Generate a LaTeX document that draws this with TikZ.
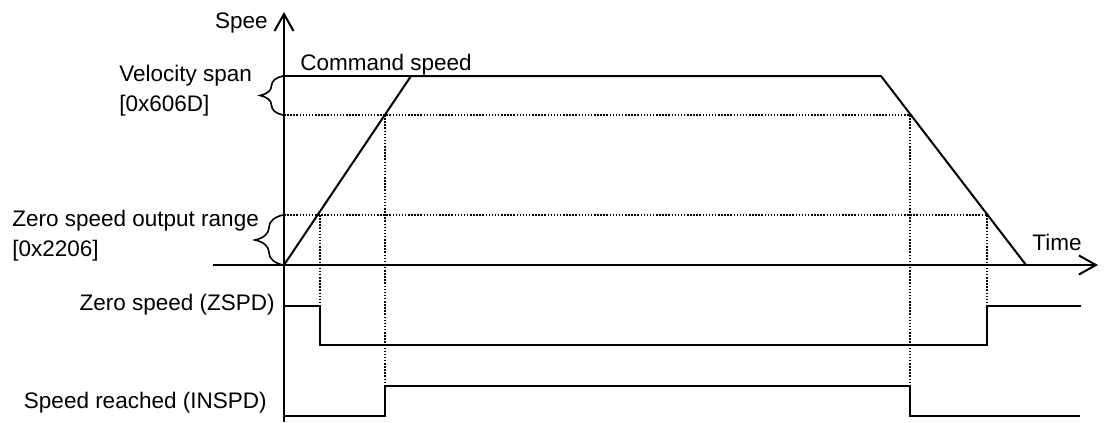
\documentclass[tikz,border=0pt]{standalone}
\usepackage{fontspec}
\setmainfont{Liberation Sans}
\usetikzlibrary{arrows.meta,decorations.pathreplacing}
\begin{document}
\begin{tikzpicture}[x=0.5pt,y=-0.5pt,font=\fontsize{11.25}{15}\selectfont,
  axis/.style={line width=1pt,-{Straight Barb[length=8.5pt,width=9.5pt]}},
  sig/.style={line width=1pt},
  guide/.style={line width=0.75pt,dash pattern=on 0.75pt off 0.8pt},
  lbl/.style={inner sep=0pt},
  span/.style={line width=0.8pt,decorate,decoration={brace,amplitude=#1}}]
\useasboundingbox (0,0) rectangle (1104,423);

% axes
\coordinate (O) at (284,265);
\draw[axis] (284,422) -- (284,12);
\draw[axis] (213,265) -- (1098,265);
\node[lbl,anchor=base east] (spee) at (268,28) {Spee};
\node[lbl,anchor=base west] (time) at (1032,250) {Time};

% command speed
\coordinate (acc) at (411,76);
\coordinate (dec) at (881,76);
\coordinate (stop) at (1026,265);
\draw[sig] (O) -- (acc) -- (dec) -- (stop);
\draw[sig] (O |- acc) -- (acc);
\node[lbl,anchor=base west] (cmd) at (300,70) {Command speed};

% levels
\draw[guide] (284,115) -- (910,115);
\draw[guide] (284,215) -- (987,215);
\draw[guide] (385,115) -- (385,386);
\draw[guide] (910,115) -- (910,386);
\draw[guide] (320,215) -- (320,306);
\draw[guide] (987,215) -- (987,306);

\draw[span=11.5pt] (283,115) -- (283,76);
\node[lbl,anchor=west,align=left] (vspan) at (119,91) {Velocity span\\{[0x606D]}};
\draw[span=14pt] (283,265) -- (283,215);
\node[lbl,anchor=west,align=left] (zrange) at (12,236) {Zero speed output range\\{[0x2206]}};

% outputs
\node[lbl,anchor=base east] (zspd) at (275,310) {Zero speed (ZSPD)};
\draw[sig] (284,306) -- (320,306) -- (320,345) -- (987,345) -- (987,306) -- (1081,306);

\node[lbl,anchor=base east] (inspd) at (267,408) {Speed reached (INSPD)};
\draw[sig] (284,416) -- (385,416) -- (385,386) -- (910,386) -- (910,416) -- (1080,416);
\end{tikzpicture}
\end{document}
